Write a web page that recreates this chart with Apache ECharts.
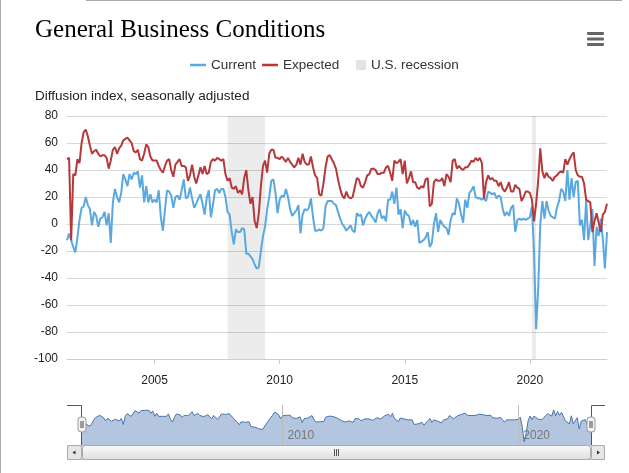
<!DOCTYPE html>
<html><head><meta charset="utf-8">
<script src="https://cdn.jsdelivr.net/npm/echarts@6/dist/echarts.min.js"></script>
<style>html,body{margin:0;padding:0;background:#fff;}#c{width:629px;height:473px;}</style>
</head><body><div id="c"></div>
<script>
// Empire-style survey: General Business Conditions, monthly from Jul 2001 to Feb 2023
const startYear = 2001;
const startMonth = 7;

const current = [
-12,-7,-12,-17,-21,-10,3,12,13,20,
14,11,-1,9,6,-2,4,5,9,-1,
8,-14,16,26,20,16,23,37,33,28,
37,33,38,37,39,27,36,16,28,16,
22,16,18,16,25,5,-5,11,25,24,
21,12,20,21,18,25,33,19,20,27,
19,12,15,19,22,15,7,19,25,5,
14,25,26,23,26,26,20,9,7,-6,
-15,-4,-6,-6,-3,-4,-22,-22,-24,-26,
-30,-33,-32,-20,-9,-2,11,20,32,33,
23,8,18,21,20,26,20,11,6,8,
10,14,-7,7,11,10,12,19,5,-5,
-5,-4,-5,-3,13,17,17,17,15,14,
9,4,0,-2,-5,-3,-1,-5,-6,8,
6,7,-1,4,7,9,6,4,1,8,
11,4,6,2,18,18,24,15,27,7,
11,-3,10,7,6,-1,3,-2,3,-14,
-13,-12,-10,-6,-17,-14,0,8,-6,3,
0,-2,-3,-8,3,8,7,19,15,7,
1,18,12,23,25,28,20,19,19,18,
19,17,24,23,22,23,19,21,20,11,
6,9,6,12,14,-6,3,4,3,4,
3,4,5,13,-21,-78,-48,0,17,4,
17,10,6,5,4,12,17,26,24,17,
40,18,34,20,31,32,-1,3,-12,18,
-12,-1,11,-31,-2,-9,4,-11,-33,-6
];

const expected = [
48,49,-12,37,36,48,45,60,68,70,
65,58,52,54,55,52,50,51,51,49,
41,47,55,57,52,56,58,62,63,64,
62,60,54,53,55,48,47,52,59,57,
50,47,47,47,43,40,38,43,47,48,
40,35,44,46,48,43,43,42,32,36,
44,35,30,36,42,37,43,37,38,46,
48,47,49,48,47,48,37,32,34,27,
26,28,23,25,22,34,40,25,15,20,
2,-3,8,28,43,47,38,52,55,55,
49,49,48,50,48,46,49,46,44,42,
44,49,44,52,46,44,44,50,42,36,
34,22,21,30,42,50,51,48,45,41,
33,26,21,19,24,20,19,20,27,34,
33,28,27,31,36,37,41,41,40,37,
37,38,38,42,43,38,32,47,45,46,
48,37,47,30,34,39,31,31,27,26,
28,27,33,34,13,15,31,33,32,32,
34,28,37,35,31,47,48,41,43,41,
40,42,42,44,47,46,49,47,49,45,
19,31,36,33,34,32,32,28,31,26,
24,27,31,24,24,29,27,26,17,20,
24,24,23,18,2,15,32,56,39,34,
38,35,34,32,35,36,38,39,38,48,
44,48,51,53,40,36,35,35,30,18,
17,16,-6,2,8,1,-6,7,9,15
];

// U.S. recessions (start month, end month)
const recessions = [['2007-12', '2009-06'], ['2020-02', '2020-04']];
const xTickLabels = [2005, 2010, 2015, 2020];
const navTickLabels = [2010, 2020];

function monthPos(i) { const m = startMonth - 1 + i; return startYear + Math.floor(m / 12) + (m % 12) / 12; }
function ymPos(s) { const p = s.split('-').map(Number); return p[0] + (p[1] - 1) / 12; }
const xs = current.map((_, i) => monthPos(i));
const xMin = xs[0], xMax = xs[xs.length - 1];
const curData = xs.map((x, i) => [x, current[i]]);
const expData = xs.map((x, i) => [x, expected[i]]);

const FONT = 'Liberation Sans, Arial, sans-serif';
const chart = echarts.init(document.getElementById('c'), null, { renderer: 'canvas' });

// scrollbar / navigator decorations
const navL = 82, navR = 591, navT = 405, navB = 445, sbB = 460, outerL = 67, outerR = 605;
function handle(cx) {
  return [
    { type: 'rect', shape: { x: cx - 4, y: 417, width: 8, height: 15, r: 3 }, style: { fill: '#f2f2f2', stroke: '#999', lineWidth: 1 }, z: 100 },
    { type: 'line', shape: { x1: cx - 1, y1: 421, x2: cx - 1, y2: 428 }, style: { stroke: '#444', lineWidth: 1 }, z: 101 },
    { type: 'line', shape: { x1: cx + 1, y1: 421, x2: cx + 1, y2: 428 }, style: { stroke: '#444', lineWidth: 1 }, z: 101 }
  ];
}
const graphics = [
  // page borders
  { type: 'line', shape: { x1: 0.5, y1: 0, x2: 0.5, y2: 473 }, style: { stroke: '#aaa', lineWidth: 1 } },
  { type: 'line', shape: { x1: 86, y1: 0.5, x2: 622, y2: 0.5 }, style: { stroke: '#aaa', lineWidth: 1 } },
  // menu icon
  { type: 'rect', shape: { x: 587, y: 32, width: 17, height: 3, r: 1 }, style: { fill: '#666' } },
  { type: 'rect', shape: { x: 587, y: 37.5, width: 17, height: 3, r: 1 }, style: { fill: '#666' } },
  { type: 'rect', shape: { x: 587, y: 43, width: 17, height: 3, r: 1 }, style: { fill: '#666' } },
  // navigator outline
  { type: 'polyline', shape: { points: [[outerL, navT + 0.5], [navL - 0.5, navT + 0.5], [navL - 0.5, navB]] }, style: { stroke: '#555', lineWidth: 1, fill: null }, z: 99 },
  { type: 'polyline', shape: { points: [[outerR, navT + 0.5], [navR + 0.5, navT + 0.5], [navR + 0.5, navB]] }, style: { stroke: '#555', lineWidth: 1, fill: null }, z: 99 },
  // scrollbar
  { type: 'rect', shape: { x: outerL + 0.5, y: navB + 0.5, width: outerR - outerL - 1, height: sbB - navB - 1 }, style: { fill: '#eeeeee', stroke: '#bbb', lineWidth: 1 } },
  { type: 'rect', shape: { x: outerL + 0.5, y: navB + 0.5, width: navL - outerL - 1, height: sbB - navB - 1, r: 2 }, style: { fill: '#e6e6e6', stroke: '#aaa', lineWidth: 1 } },
  { type: 'rect', shape: { x: navR + 0.5, y: navB + 0.5, width: outerR - navR - 1, height: sbB - navB - 1, r: 2 }, style: { fill: '#e6e6e6', stroke: '#aaa', lineWidth: 1 } },
  { type: 'polygon', shape: { points: [[72.5, 452.5], [75.5, 450.5], [75.5, 454.5]] }, style: { fill: '#333' } },
  { type: 'polygon', shape: { points: [[600, 452.5], [597, 450.5], [597, 454.5]] }, style: { fill: '#333' } },
  { type: 'rect', shape: { x: navL + 0.5, y: navB + 0.5, width: navR - navL - 1, height: sbB - navB - 1, r: 3 },
    style: { fill: new echarts.graphic.LinearGradient(0, 0, 0, 1, [{ offset: 0, color: '#fbfbfb' }, { offset: 1, color: '#dedede' }]), stroke: '#aaa', lineWidth: 1 } },
  { type: 'line', shape: { x1: 334.5, y1: 449, x2: 334.5, y2: 456 }, style: { stroke: '#555', lineWidth: 1 } },
  { type: 'line', shape: { x1: 336.5, y1: 449, x2: 336.5, y2: 456 }, style: { stroke: '#555', lineWidth: 1 } },
  { type: 'line', shape: { x1: 338.5, y1: 449, x2: 338.5, y2: 456 }, style: { stroke: '#555', lineWidth: 1 } }
].concat(handle(navL), handle(navR));

const option = {
  animation: false,
  backgroundColor: '#ffffff',
  textStyle: { fontFamily: FONT },
  title: [
    { text: 'General Business Conditions', left: 35, top: 18, padding: 0,
      textStyle: { fontFamily: 'Liberation Serif, Georgia, serif', fontSize: 25, fontWeight: 'normal', color: '#000' } },
    { text: 'Diffusion index, seasonally adjusted', left: 35, top: 89, padding: 0,
      textStyle: { fontFamily: FONT, fontSize: 13.5, fontWeight: 'normal', color: '#222' } }
  ],
  legend: [
    { data: [{ name: 'Current', icon: 'rect' }, { name: 'Expected', icon: 'rect' }], left: 190, top: 58, padding: 0,
      itemWidth: 16, itemHeight: 2.5, itemGap: 6,
      textStyle: { fontFamily: FONT, fontSize: 13.5, color: '#333' } },
    { data: [{ name: 'U.S. recession', icon: 'rect' }], left: 356, top: 58, padding: 0, itemWidth: 10, itemHeight: 10,
      textStyle: { fontFamily: FONT, fontSize: 13.5, color: '#333' } }
  ],
  grid: [
    { left: 67, right: 22, top: 116, height: 243 },
    { left: navL, width: navR - navL, top: navT, height: navB - navT }
  ],
  xAxis: [
    { type: 'value', min: xMin, max: xMax, gridIndex: 0,
      axisLine: { show: true, onZero: false, lineStyle: { color: '#C0D0E0', width: 1 } },
      axisTick: { show: true, customValues: xTickLabels, length: 5, lineStyle: { color: '#C0D0E0' } },
      axisLabel: { customValues: xTickLabels, formatter: v => String(Math.round(v)), color: '#222', fontSize: 12, margin: 16, fontFamily: FONT },
      splitLine: { show: false } },
    { type: 'value', min: xMin, max: xMax, gridIndex: 1, z: 20,
      axisLine: { show: false }, axisTick: { show: false },
      axisLabel: { customValues: navTickLabels, formatter: v => String(Math.round(v)), inside: true, align: 'left', padding: [0, 0, 0, 5], margin: 3, color: '#777', fontSize: 12, fontFamily: FONT },
      splitLine: { show: false } }
  ],
  yAxis: [
    { type: 'value', min: -100, max: 80, interval: 20, gridIndex: 0,
      axisLine: { show: false }, axisTick: { show: false },
      axisLabel: { color: '#222', fontSize: 12, margin: 9, fontFamily: FONT },
      splitLine: { lineStyle: { color: '#D8D8D8', width: 1 } } },
    { type: 'value', min: -90, max: 58, gridIndex: 1, show: false, splitLine: { show: false } }
  ],
  series: [
    { name: 'U.S. recession', type: 'line', xAxisIndex: 0, yAxisIndex: 0, data: [], symbol: 'none',
      itemStyle: { color: '#E3E3E3' }, lineStyle: { color: '#E3E3E3' },
      markArea: { silent: true, itemStyle: { color: 'rgba(0,0,0,0.075)' },
        data: recessions.map(r => [{ xAxis: ymPos(r[0]) }, { xAxis: ymPos(r[1]) }]) } },
    { name: 'Current', type: 'line', xAxisIndex: 0, yAxisIndex: 0, data: curData, symbol: 'none', z: 3,
      itemStyle: { color: '#5AA8E0' }, lineStyle: { color: '#5AA8E0', width: 2 } },
    { name: 'Expected', type: 'line', xAxisIndex: 0, yAxisIndex: 0, data: expData, symbol: 'none', z: 4,
      itemStyle: { color: '#B5393B' }, lineStyle: { color: '#B5393B', width: 2 } },
    { name: 'navigator', type: 'line', xAxisIndex: 1, yAxisIndex: 1, data: curData, symbol: 'none', silent: true, z: 1,
      lineStyle: { color: '#4A74AE', width: 1 }, areaStyle: { color: '#B4C6DF', opacity: 1, origin: 'start' },
      markLine: { silent: true, symbol: 'none', label: { show: false }, lineStyle: { color: '#bbb', width: 1, type: 'solid' },
        data: navTickLabels.map(v => ({ xAxis: v })) } }
  ],
  graphic: graphics
};
chart.setOption(option);
</script>
</body></html>
